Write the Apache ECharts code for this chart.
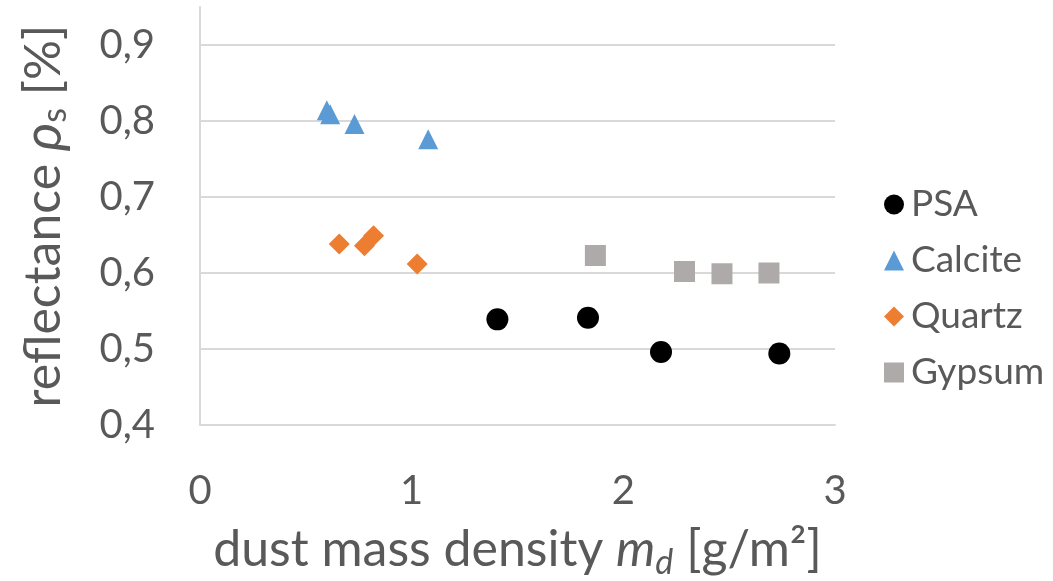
<!DOCTYPE html>
<html>
<head>
<meta charset="utf-8">
<script src="https://cdn.jsdelivr.net/npm/echarts@6/dist/echarts.min.js"></script>
<style>
  html, body { margin: 0; padding: 0; background: #ffffff; }
  #chart { width: 1053px; height: 581px; }
</style>
</head>
<body>
<div id="chart"></div>
<script>
// Reflectance vs. dust mass density for four dust types
const psaX = [1.405, 1.833, 2.178, 2.737];
const psaY = [0.539, 0.541, 0.496, 0.494];
const calciteX = [0.599, 0.615, 0.730, 1.078];
const calciteY = [0.814, 0.809, 0.796, 0.776];
const quartzX = [0.658, 0.777, 0.820, 1.026];
const quartzY = [0.638, 0.636, 0.649, 0.612];
const gypsumX = [1.868, 2.289, 2.466, 2.688];
const gypsumY = [0.623, 0.602, 0.599, 0.600];

const yTicks = [0.4, 0.5, 0.6, 0.7, 0.8, 0.9];
const xTicks = [0, 1, 2, 3];

const FONT = 'Lato';
const TEXT = '#595959';
const LINE = '#d9d9d9';

function pairs(xs, ys) {
  return xs.map((x, i) => [x, ys[i]]);
}

const chart = echarts.init(document.getElementById('chart'), null, { renderer: 'canvas' });

chart.setOption({
  animation: false,
  backgroundColor: '#ffffff',
  textStyle: { fontFamily: FONT, color: TEXT },
  grid: { left: 200, right: 218, top: 7, bottom: 156, containLabel: false, outerBoundsMode: 'none' },
  legend: {
    orient: 'vertical',
    left: 879,
    top: 181,
    itemWidth: 20,
    itemHeight: 20,
    itemGap: 19,
    textStyle: { fontFamily: FONT, fontSize: 37, color: TEXT, lineHeight: 36, padding: [0, 0, 0, 2] },
    data: ['PSA', 'Calcite', 'Quartz', 'Gypsum']
  },
  xAxis: {
    type: 'value',
    min: 0,
    max: 3,
    interval: 1,
    name: 'dust mass density {i|m}{sub|d} [g/m²]',
    nameLocation: 'middle',
    nameGap: 97,
    nameTextStyle: {
      fontFamily: FONT, fontSize: 50, color: TEXT, lineHeight: 56,
      rich: {
        i: { fontFamily: FONT, fontSize: 50, fontStyle: 'italic', color: TEXT, lineHeight: 56 },
        sub: { fontFamily: FONT, fontSize: 34, fontStyle: 'italic', color: TEXT, lineHeight: 56, padding: [26, 0, 0, 0] }
      }
    },
    axisLine: { show: true, lineStyle: { color: LINE, width: 2 } },
    axisTick: { show: false },
    splitLine: { show: false },
    axisLabel: {
      fontFamily: FONT, fontSize: 40, color: TEXT, margin: 46,
      formatter: v => (xTicks.includes(v) ? String(v) : '')
    }
  },
  yAxis: {
    type: 'value',
    min: 0.4,
    max: 0.95,
    interval: 0.1,
    name: 'reflectance {i|ρ}{sub|s} [%]',
    nameLocation: 'middle',
    nameGap: 128,
    nameRotate: 90,
    nameTextStyle: {
      fontFamily: FONT, fontSize: 50, color: TEXT, lineHeight: 56,
      rich: {
        i: { fontFamily: FONT, fontSize: 54, fontStyle: 'italic', color: TEXT, lineHeight: 56 },
        sub: { fontFamily: FONT, fontSize: 34, color: TEXT, lineHeight: 56, padding: [22, 0, 0, 0] }
      }
    },
    axisLine: { show: true, lineStyle: { color: LINE, width: 2 } },
    axisTick: { show: false },
    splitLine: { show: true, showMaxLine: false, lineStyle: { color: LINE, width: 2 } },
    axisLabel: {
      fontFamily: FONT, fontSize: 40, color: TEXT, margin: 45,
      formatter: v => {
        const t = yTicks.find(k => Math.abs(k - v) < 1e-6);
        return t === undefined ? '' : t.toFixed(1).replace('.', ',');
      }
    }
  },
  series: [
    { name: 'PSA', type: 'scatter', symbol: 'circle', symbolSize: 22,
      itemStyle: { color: '#000000', opacity: 1 }, data: pairs(psaX, psaY) },
    { name: 'Calcite', type: 'scatter', symbol: 'triangle', symbolSize: [20, 20],
      itemStyle: { color: '#5b9bd5', opacity: 1 }, data: pairs(calciteX, calciteY) },
    { name: 'Quartz', type: 'scatter', symbol: 'diamond', symbolSize: [21, 21],
      itemStyle: { color: '#ed7d31', opacity: 1 }, data: pairs(quartzX, quartzY) },
    { name: 'Gypsum', type: 'scatter', symbol: 'rect', symbolSize: [21, 21],
      itemStyle: { color: '#aeaaaa', opacity: 1 }, data: pairs(gypsumX, gypsumY) }
  ]
});
</script>
</body>
</html>
